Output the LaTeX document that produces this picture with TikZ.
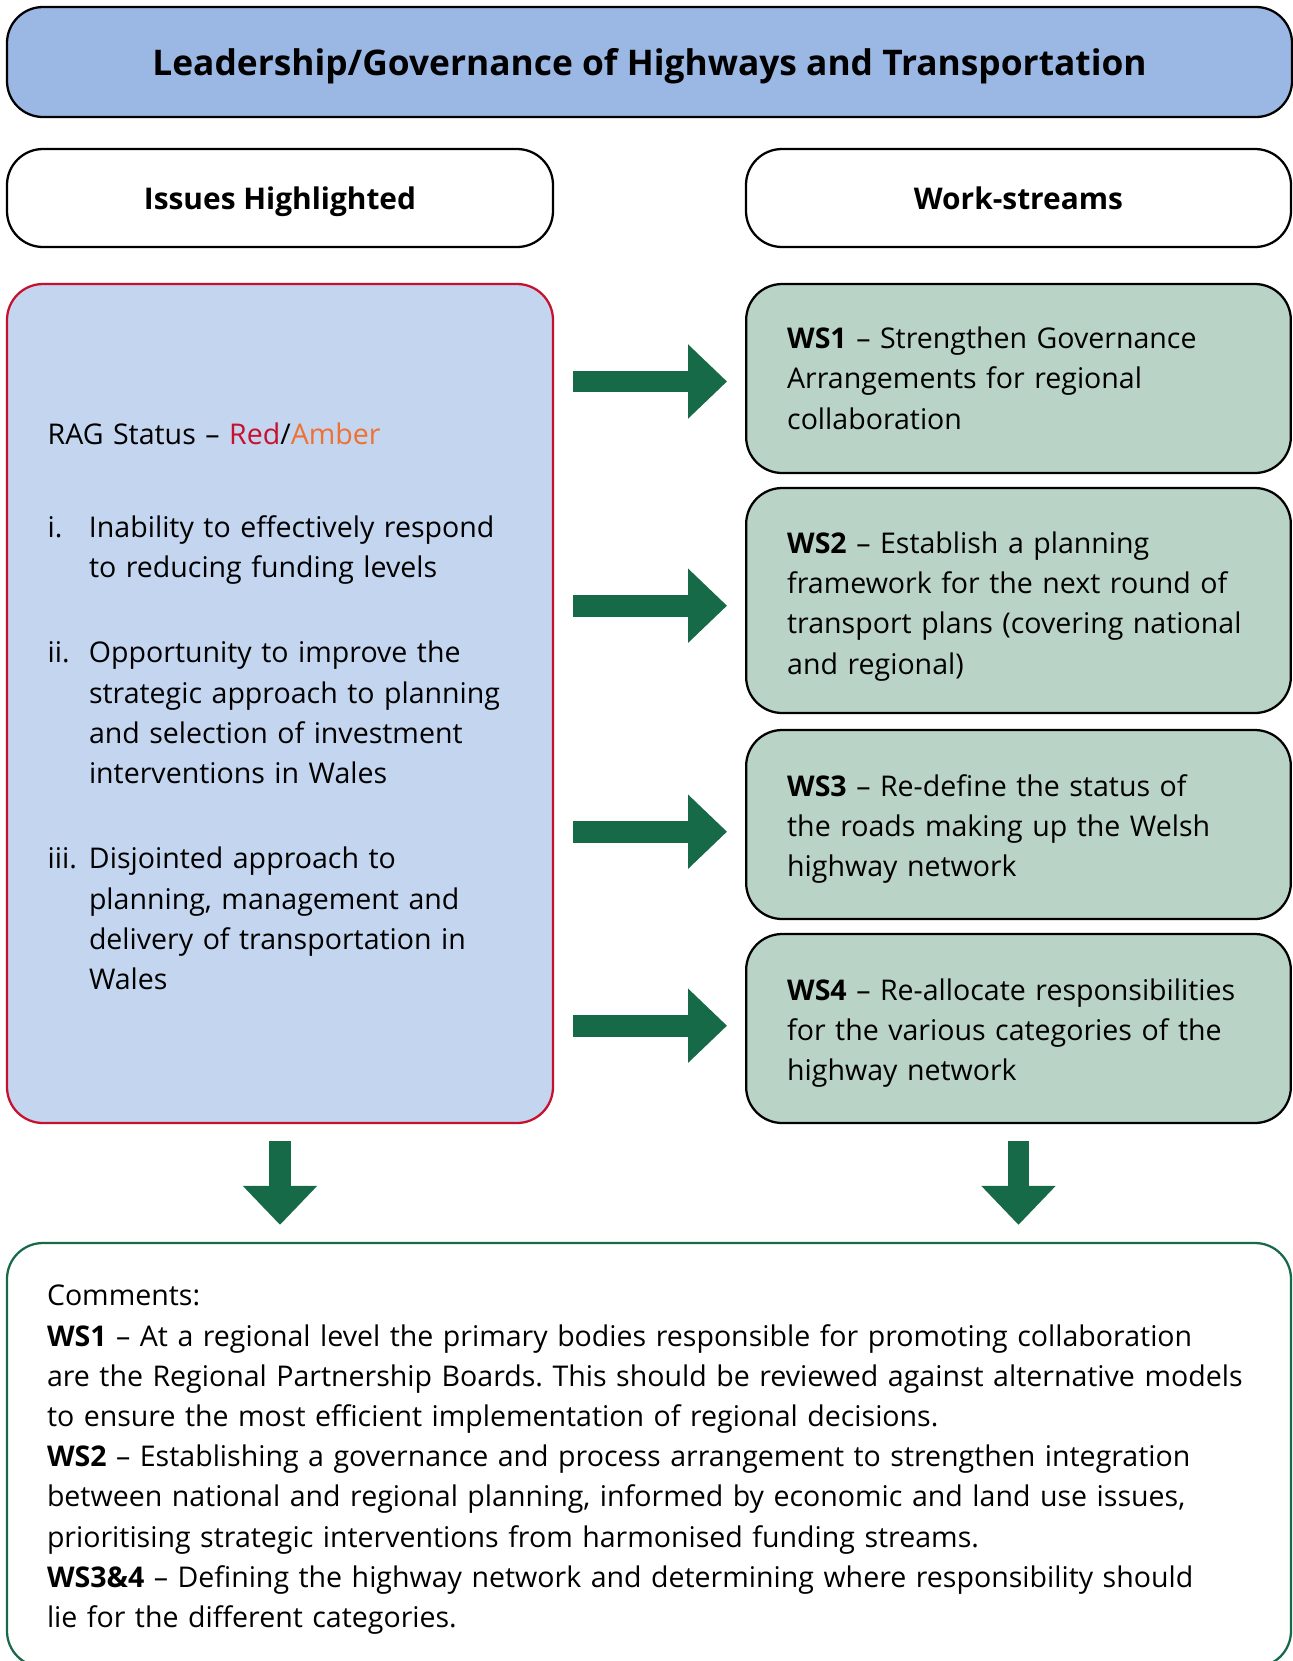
\documentclass[tikz,border=0pt]{standalone}
\usepackage{fontspec}
\setmainfont{Open Sans}
\usetikzlibrary{arrows.meta}

\definecolor{headblue}{RGB}{155,183,228}
\definecolor{issueblue}{RGB}{195,213,239}
\definecolor{issuered}{RGB}{200,16,46}
\definecolor{wsgreen}{RGB}{185,211,199}
\definecolor{arrowgreen}{RGB}{23,106,72}
\definecolor{amber}{RGB}{240,112,48}

\newcommand{\bodyfont}{\fontsize{21.4}{30.15}\selectfont}
\newcommand{\titlefont}{\fontsize{26.5}{30}\selectfont\bfseries}
\frenchspacing

\tikzset{
  box/.style={draw, line width=1.7pt, rounded corners=27pt, inner ysep=0pt, font=\bodyfont},
  textbox/.style={box, align=left, execute at begin node=\rule{0pt}{#1}, execute at end node=\strut},
  textbox/.default=26.7pt,
  headbox/.style={box, minimum width=409.5pt, minimum height=73.5pt, text height=21.5pt, text depth=4.5pt, font=\fontsize{22.4}{30}\selectfont\bfseries},
  wsbox/.style={textbox=#1, fill=wsgreen, text width=347pt, inner xsep=30.75pt},
  wsbox/.default=26.7pt,
  bigarrow/.style={draw=arrowgreen, line width=16.2pt, -{Triangle[width=54pt,length=29.25pt]}, arrowgreen},
}

\begin{document}
\begin{tikzpicture}[x=0.75pt,y=0.75pt,yscale=-1,xscale=1]
\useasboundingbox (0,0) rectangle (1293,1661);

% title and headers
\node (title) [box, fill=headblue, minimum width=963.75pt, minimum height=82.5pt, text height=24.5pt, text depth=5pt, font=\titlefont] at (649.5,62) {Leadership/Governance of Highways and Transportation};
\node (issuehead) [headbox] at (280,198) {Issues Highlighted};
\node (wshead) [headbox, minimum width=408.75pt] at (1018.5,198) {Work-streams};

% issues
\node (issues) [textbox=29pt, draw=issuered, fill=issueblue, minimum height=629.25pt, text width=348.5pt, inner xsep=30.5pt] at (280,703.5) {RAG Status – \textcolor{issuered}{Red}/\textcolor{amber}{Amber}\\[39.6pt]
\makebox[31pt][l]{i.}Inability to effectively respond\\
\hspace*{31pt}to reducing funding levels\\[34pt]
\makebox[31pt][l]{ii.}Opportunity to improve the\\
\hspace*{31pt}strategic approach to planning\\
\hspace*{31pt}and selection of investment\\
\hspace*{31pt}interventions in Wales\\[34pt]
\makebox[31pt][l]{iii.}Disjointed approach to\\
\hspace*{31pt}planning, management and\\
\hspace*{31pt}delivery of transportation in\\
\hspace*{31pt}Wales};

% work-streams
\node (ws1) [wsbox=24.5pt, minimum height=141.75pt] at (1018.5,378.5) {\textbf{WS1} – Strengthen Governance\\Arrangements for regional\\collaboration};
\node (ws2) [wsbox=29pt, minimum height=168.75pt] at (1018.5,600.5) {\textbf{WS2} – Establish a planning\\framework for the next round of\\transport plans (covering national\\and regional)};
\node (ws3) [wsbox, minimum height=141.75pt] at (1018.5,824.5) {\textbf{WS3} – Re-define the status of\\the roads making up the Welsh\\highway network};
\node (ws4) [wsbox, minimum height=141.75pt] at (1018.5,1028.5) {\textbf{WS4} – Re-allocate responsibilities\\for the various categories of the\\highway network};

% comments
\node (comments) [textbox, draw=arrowgreen, minimum height=318pt, text width=903pt, inner xsep=30pt] at (649,1455) {Comments:\\
\textbf{WS1} – At a regional level the primary bodies responsible for promoting collaboration\\
are the Regional Partnership Boards. This should be reviewed against alternative models\\
to ensure the most efficient implementation of regional decisions.\\
\textbf{WS2} – Establishing a governance and process arrangement to strengthen integration\\
between national and regional planning, informed by economic and land use issues,\\
prioritising strategic interventions from harmonised funding streams.\\
\textbf{WS3\&4} – Defining the highway network and determining where responsibility should\\
lie for the different categories.};

% arrows
\foreach \ws/\dy in {ws1/2.25pt,ws2/3.9pt,ws3/5.4pt,ws4/-2.1pt}
  \draw [bigarrow, shorten <=14.25pt, shorten >=13.5pt] ([yshift=\dy]issues.east |- \ws.west) -- ([yshift=\dy]\ws.west);
\draw [bigarrow, shorten <=12.75pt, shorten >=12.75pt] (issues.south) -- (issues.south |- comments.north);
\draw [bigarrow, shorten <=12.75pt, shorten >=12.75pt] (ws4.south) -- (ws4.south |- comments.north);

\end{tikzpicture}
\end{document}
